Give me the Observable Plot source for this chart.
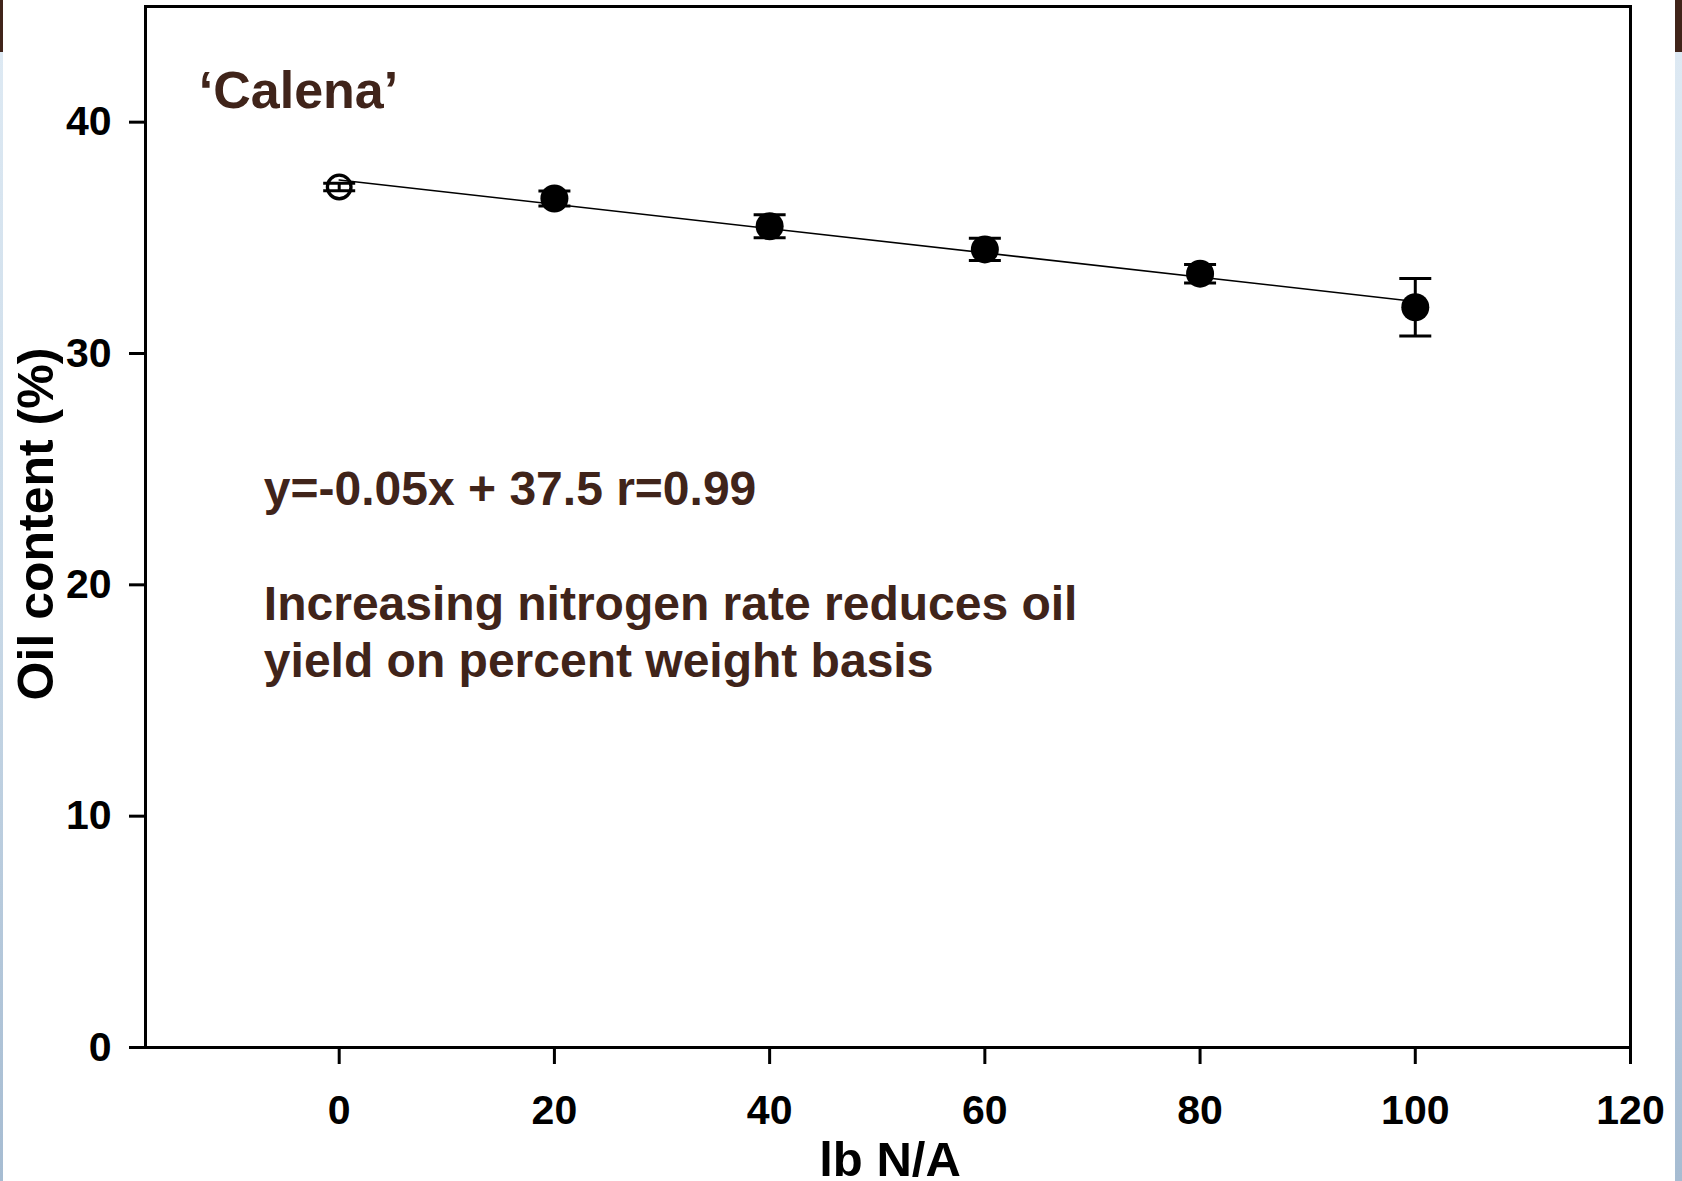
<!DOCTYPE html>
<html>
<head>
<meta charset="utf-8">
<script src="https://cdn.jsdelivr.net/npm/d3@7"></script>
<script src="https://cdn.jsdelivr.net/npm/@observablehq/plot@0.6"></script>
<style>
  html, body { margin: 0; padding: 0; background: #ffffff; overflow: hidden; }
  #wrap { position: relative; width: 1682px; height: 1181px; }
  #chart svg { display: block; }
  .strip { position: absolute; top: 0; height: 1181px; background: linear-gradient(to bottom, #40241a 0, #40241a 52px, #dde9f3 52px, #c9d9e7 600px, #a6bcd2 1181px); }
</style>
</head>
<body>
<div id="wrap">
  <div id="chart"></div>
  <div class="strip" style="left:0;width:3px"></div>
  <div class="strip" style="left:1675px;width:7px"></div>
</div>
<script>
// Nitrogen rate (lb N/A)
const nitrogen = [0, 20, 40, 60, 80, 100];
// Oil content (%) means
const oil = [37.2, 36.7, 35.5, 34.5, 33.45, 32.0];
// Error (± %)
const err = [0.16, 0.32, 0.5, 0.48, 0.4, 1.24];
// Marker style: the control (0 N) is an open circle
const openMarker = [true, false, false, false, false, false];
// Fitted regression line endpoints
const fitX = [0, 100];
const fitY = [37.5, 32.25];
// Axis ticks
const xTicks = [0, 20, 40, 60, 80, 100, 120];
const yTicks = [0, 10, 20, 30, 40];

const brown = "#40241a";
const data = nitrogen.map((x, i) => ({x, y: oil[i], lo: oil[i] - err[i], hi: oil[i] + err[i], open: openMarker[i]}));
const fit = fitX.map((x, i) => ({x, y: fitY[i]}));

const capSymbol = {
  draw(ctx, size) {
    const h = Math.sqrt(size / Math.PI);
    ctx.moveTo(-h, 0);
    ctx.lineTo(h, 0);
  }
};

const chart = Plot.plot({
  width: 1682,
  height: 1181,
  marginLeft: 145,
  marginRight: 52,
  marginTop: 6,
  marginBottom: 134,
  style: {fontFamily: "'Liberation Sans', Arial, sans-serif", fontWeight: "bold", background: "transparent", color: "#000"},
  x: {domain: [-18, 120]},
  y: {domain: [0, 45]},
  marks: [
    Plot.axisX({ticks: xTicks, tickSize: 17, tickPadding: 30, strokeWidth: 3, fontSize: 41, fontWeight: "bold", label: null, tickFormat: d => String(d)}),
    Plot.axisY({ticks: yTicks, tickSize: 16, tickPadding: 18, strokeWidth: 3, fontSize: 41, fontWeight: "bold", label: null, tickFormat: d => String(d)}),
    Plot.frame({stroke: "#000", strokeWidth: 3}),
    Plot.line(fit, {x: "x", y: "y", stroke: "#000", strokeWidth: 1.6}),
    Plot.ruleX(data, {x: "x", y1: "lo", y2: "hi", stroke: "#000", strokeWidth: 3}),
    Plot.dot(data, {x: "x", y: "lo", symbol: capSymbol, r: 16, stroke: "#000", strokeWidth: 3, fill: "none"}),
    Plot.dot(data, {x: "x", y: "hi", symbol: capSymbol, r: 16, stroke: "#000", strokeWidth: 3, fill: "none"}),
    Plot.dot(data, {filter: d => !d.open, x: "x", y: "y", r: 14, fill: "#000", stroke: "none"}),
    Plot.dot(data, {filter: d => d.open, x: "x", y: "y", r: 11.8, fill: "none", stroke: "#000", strokeWidth: 3.3}),
    Plot.text(["\u2018Calena\u2019"], {x: -13.05, y: 40.6, text: d => d, textAnchor: "start", lineAnchor: "bottom", fontSize: 52, fontWeight: "bold", fill: brown}),
    Plot.text(["y=-0.05x + 37.5 r=0.99"], {x: -7, y: 23.45, text: d => d, textAnchor: "start", lineAnchor: "bottom", fontSize: 48, fontWeight: "bold", fill: brown}),
    Plot.text(["Increasing nitrogen rate reduces oil\nyield on percent weight basis"], {x: -7, y: 16.0, text: d => d, textAnchor: "start", lineAnchor: "bottom", lineHeight: 1.19, fontSize: 48, fontWeight: "bold", fill: brown}),
    Plot.text(["Oil content (%)"], {frameAnchor: "left", text: d => d, rotate: -90, dx: -93, dy: -3, textAnchor: "middle", lineAnchor: "bottom", fontSize: 50, fontWeight: "bold", fill: "#000"}),
    Plot.text(["lb N/A"], {frameAnchor: "bottom", text: d => d, dx: 2, dy: 128, textAnchor: "middle", lineAnchor: "bottom", fontSize: 49, fontWeight: "bold", fill: "#000"})
  ]
});
document.getElementById("chart").appendChild(chart);
</script>
</body>
</html>
